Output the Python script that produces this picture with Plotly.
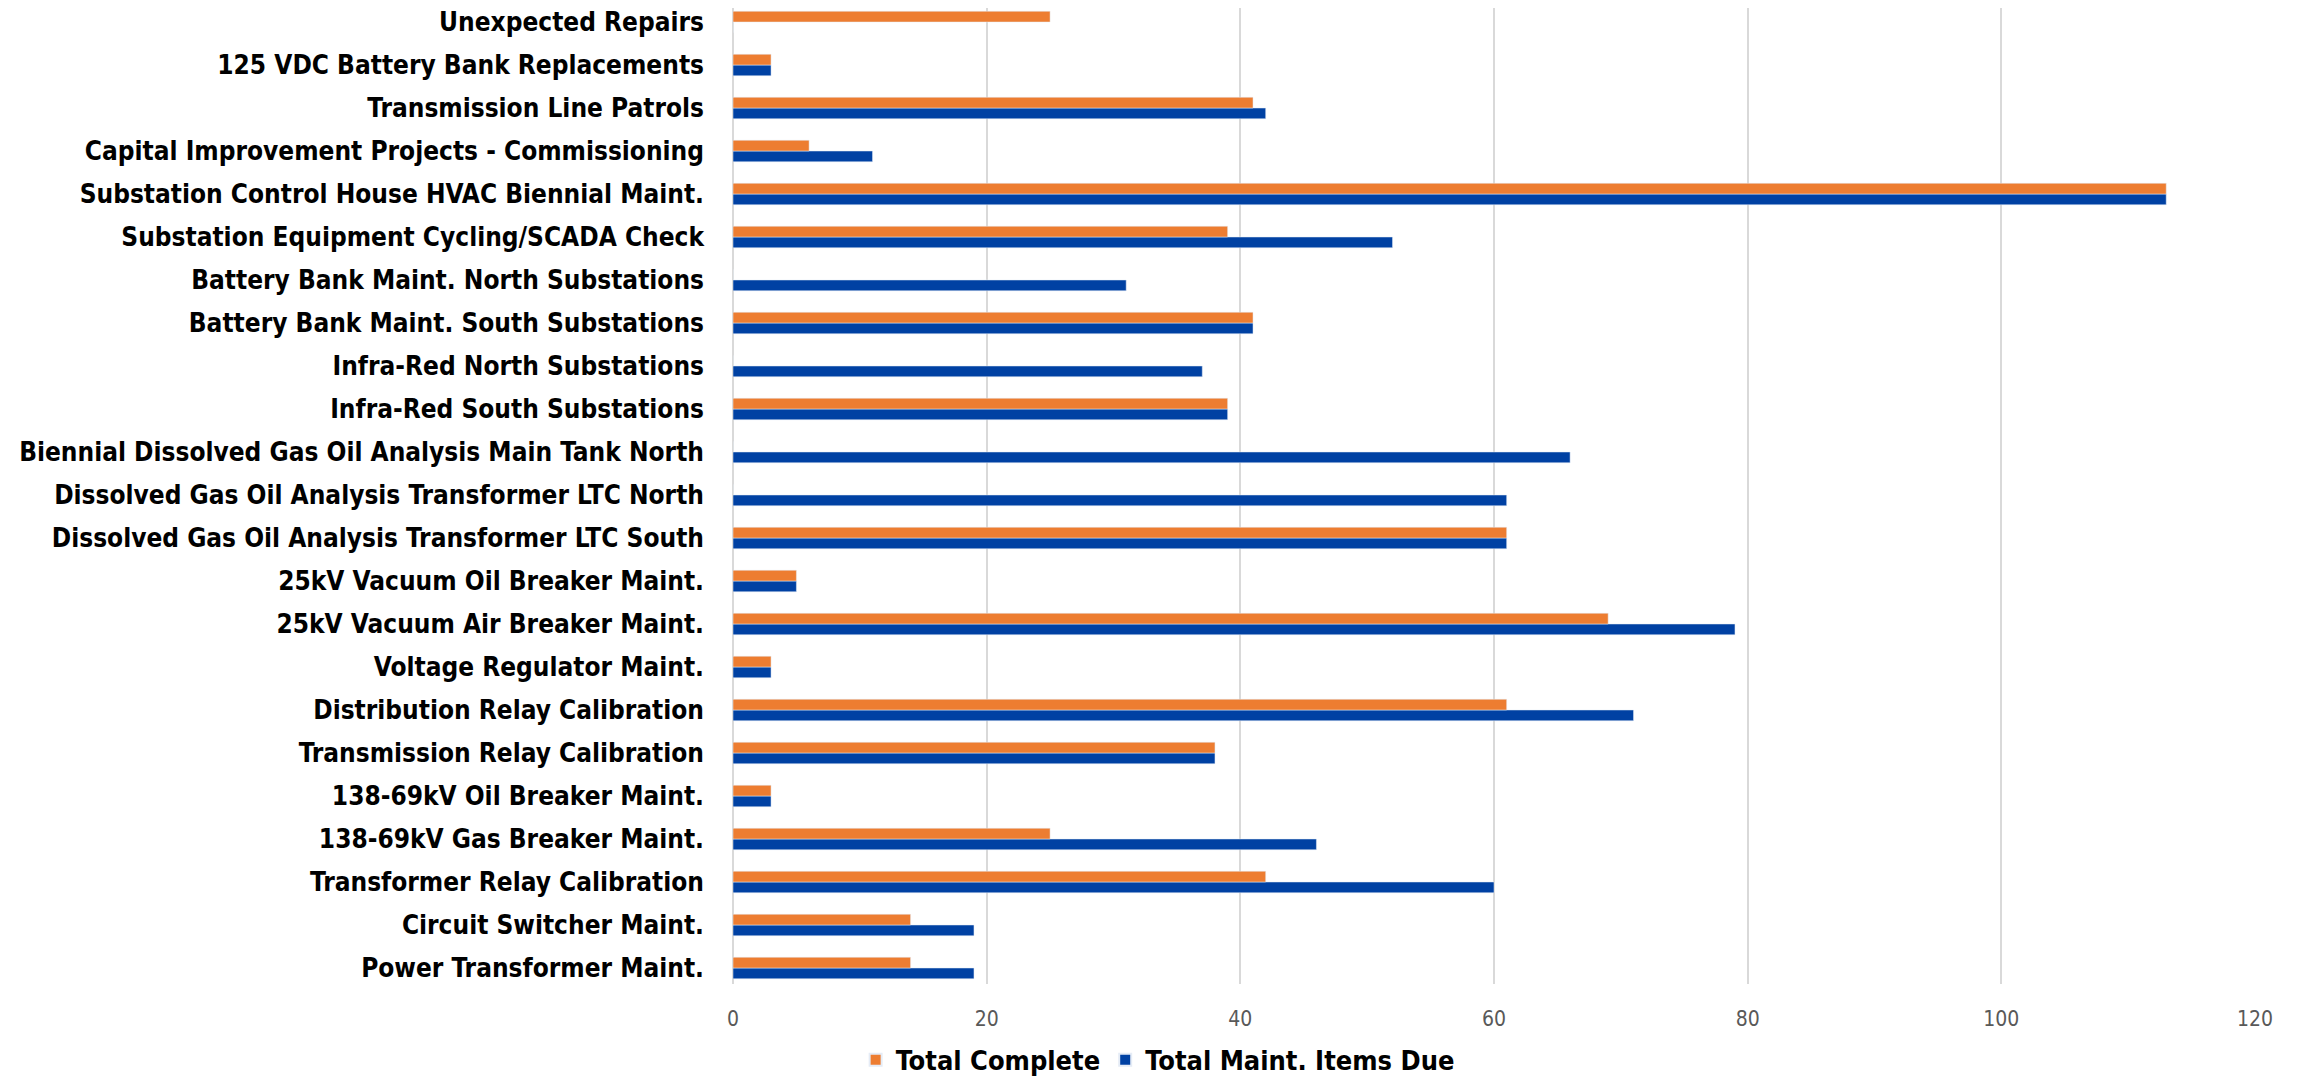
import plotly.graph_objects as go

categories = [
    "Power Transformer Maint.",
    "Circuit Switcher Maint.",
    "Transformer Relay Calibration",
    "138-69kV Gas Breaker Maint.",
    "138-69kV Oil Breaker Maint.",
    "Transmission Relay Calibration",
    "Distribution Relay Calibration",
    "Voltage Regulator Maint.",
    "25kV Vacuum Air Breaker Maint.",
    "25kV Vacuum Oil Breaker Maint.",
    "Dissolved Gas Oil Analysis Transformer LTC South",
    "Dissolved Gas Oil Analysis Transformer LTC North",
    "Biennial Dissolved Gas Oil Analysis Main Tank North",
    "Infra-Red South Substations",
    "Infra-Red North Substations",
    "Battery Bank Maint. South Substations",
    "Battery Bank Maint. North Substations",
    "Substation Equipment Cycling/SCADA Check",
    "Substation Control House HVAC Biennial Maint.",
    "Capital Improvement Projects - Commissioning",
    "Transmission Line Patrols",
    "125 VDC Battery Bank Replacements",
    "Unexpected Repairs",
]

total_complete = [14, 14, 42, 25, 3, 38, 61, 3, 69, 5, 61, 0, 0, 39, 0, 41, 0, 39, 113, 6, 41, 3, 25]
total_due = [19, 19, 60, 46, 3, 38, 71, 3, 79, 5, 61, 61, 66, 39, 37, 41, 31, 52, 113, 11, 42, 3, 0]

x_ticks = [0, 20, 40, 60, 80, 100, 120]

LABEL_FONT = "Liberation Sans Narrow, DejaVu Sans Condensed, Arial Narrow, sans-serif"

fig = go.Figure()
fig.add_trace(go.Bar(
    y=categories, x=total_due, orientation="h", name="Total Maint. Items Due",
    marker=dict(color="#0041A3"), legendrank=2,
))
fig.add_trace(go.Bar(
    y=categories, x=total_complete, orientation="h", name="Total Complete",
    marker=dict(color="#ED7D31"), legendrank=1,
))

fig.update_layout(
    width=2294, height=1068,
    margin=dict(l=725, r=47, t=0, b=92, autoexpand=False),
    paper_bgcolor="white", plot_bgcolor="white",
    barmode="group", bargap=0.5, bargroupgap=0,
    legend=dict(
        orientation="h", x=0.279, xanchor="center", y=-0.078, yanchor="middle",
        font=dict(family=LABEL_FONT, size=27, color="black", weight="bold"),
        itemsizing="constant",
    ),
    xaxis=dict(
        range=[0, 120], tickvals=x_ticks, showgrid=True, gridcolor="#D9D9D9", gridwidth=1.5,
        zeroline=True, zerolinecolor="#D9D9D9", zerolinewidth=1.5, showline=False,
        tickfont=dict(family=LABEL_FONT, size=21, color="#595959"),
        ticklabelstandoff=20, fixedrange=True, automargin=False,
    ),
    yaxis=dict(
        categoryorder="array", categoryarray=categories, range=[-0.372, 22.326],
        tickfont=dict(family=LABEL_FONT, size=26, color="black", weight="bold"),
        showgrid=False, showline=False, zeroline=False, ticklabelstandoff=28,
        automargin=False,
    ),
)

fig.write_html("out.html")
